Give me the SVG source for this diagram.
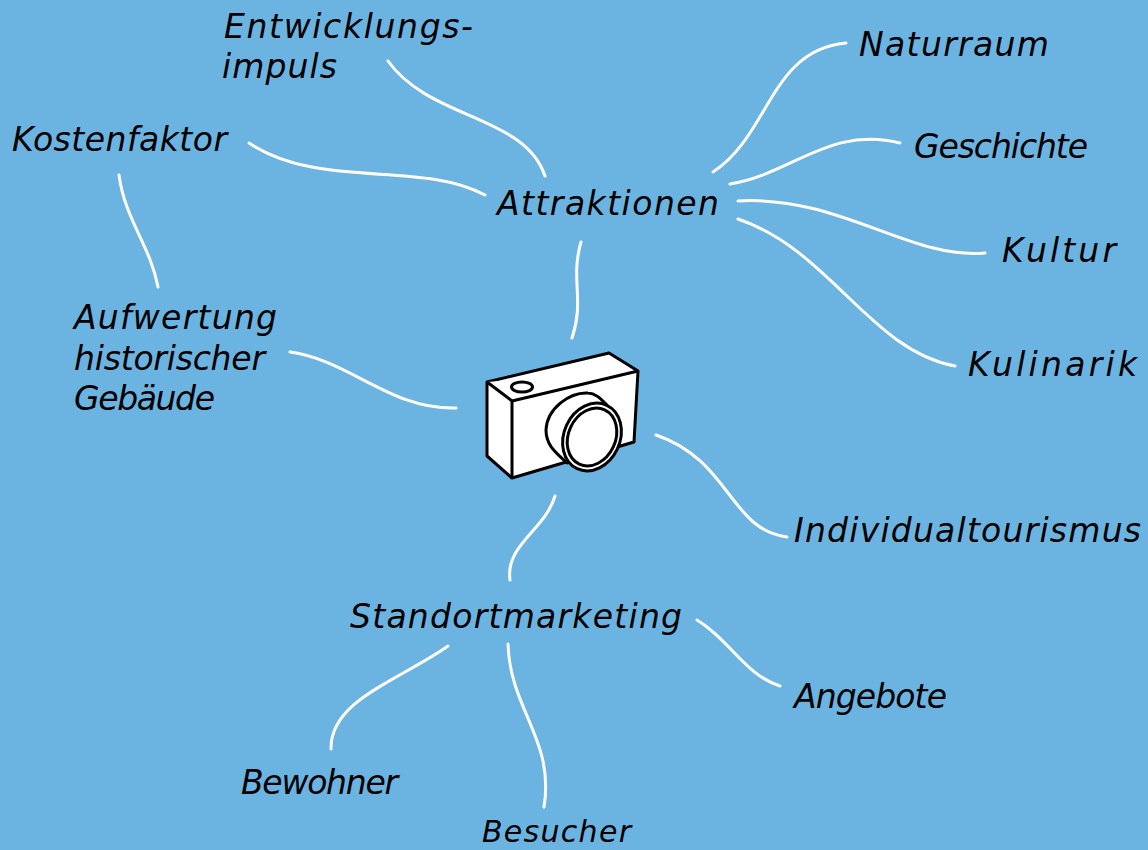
<svg xmlns="http://www.w3.org/2000/svg" width="1148" height="850" viewBox="0 0 1148 850">
<style>
.t{font-family:"DejaVu Sans",sans-serif;font-style:oblique;font-size:33px;fill:#000}
.c{fill:none;stroke:#fff;stroke-width:3;stroke-linecap:round}
.k{fill:#fff;stroke:#000;stroke-width:3;stroke-linejoin:round}
</style>
<rect width="1148" height="850" fill="#6bb3e0"/>
<g id="connectors">
<path class="c" d="M388 61C430 120 525 115 545 176"/>
<path class="c" d="M249 143C320 190 420 160 485 195"/>
<path class="c" d="M119 175C125 220 150 245 158 287"/>
<path class="c" d="M713 172C770 135 770 50 846 43"/>
<path class="c" d="M730 184C790 175 830 125 900 143"/>
<path class="c" d="M738 201C840 195 910 260 985 253"/>
<path class="c" d="M738 219C830 250 870 350 955 366"/>
<path class="c" d="M581 242C570 280 585 300 572 338"/>
<path class="c" d="M290 352C350 360 390 410 456 408"/>
<path class="c" d="M656 435C730 460 730 530 787 537"/>
<path class="c" d="M555 496C545 530 505 545 510 580"/>
<path class="c" d="M697 620C730 640 745 675 780 686"/>
<path class="c" d="M448 646C400 680 330 700 331 749"/>
<path class="c" d="M508 644C510 710 555 740 544 807"/>
</g>
<g id="camera">
<path class="k" d="M487 382L609 353L638 371L634 442L512 478L487 456Z"/>
<path class="k" d="M487 382L512 401L638 371M512 401V478"/>
<ellipse class="k" cx="522" cy="387" rx="10.500" ry="5"/>
<path class="k" d="M607 405C600 398 595 393 588 393C570 392 547 408 546 430C546 445 555 452 567 463Z"/>
<ellipse class="k" cx="592" cy="437" rx="28" ry="35" transform="rotate(25 592 437)"/>
<ellipse class="k" cx="592" cy="437" rx="23.500" ry="30" transform="rotate(25 592 437)"/>
</g>
<g id="n1"><text class="t" x="224" y="38" textLength="249">Entwicklungs-</text><text class="t" x="222" y="78" textLength="115">impuls</text></g>
<g id="n2"><text class="t" x="12" y="151" textLength="215">Kostenfaktor</text></g>
<g id="n3"><text class="t" x="497" y="215" textLength="222">Attraktionen</text></g>
<g id="n4"><text class="t" x="859" y="56" textLength="190">Naturraum</text></g>
<g id="n5"><text class="t" x="914" y="158" textLength="174">Geschichte</text></g>
<g id="n6"><text class="t" x="1002" y="262" textLength="114">Kultur</text></g>
<g id="n7"><text class="t" x="968" y="376" textLength="169">Kulinarik</text></g>
<g id="n8"><text class="t" x="74" y="329" textLength="203">Aufwertung</text><text class="t" x="74" y="370" textLength="191">historischer</text><text class="t" x="74" y="410" textLength="141">Gebäude</text></g>
<g id="n9"><text class="t" x="794" y="542" textLength="347">Individualtourismus</text></g>
<g id="n10"><text class="t" x="350" y="628" textLength="332">Standortmarketing</text></g>
<g id="n11"><text class="t" x="794" y="708" textLength="153">Angebote</text></g>
<g id="n12"><text class="t" x="241" y="794" textLength="157">Bewohner</text></g>
<g id="n13"><text class="t" x="482" y="842" textLength="149" style="font-size:30px">Besucher</text></g>
</svg>
